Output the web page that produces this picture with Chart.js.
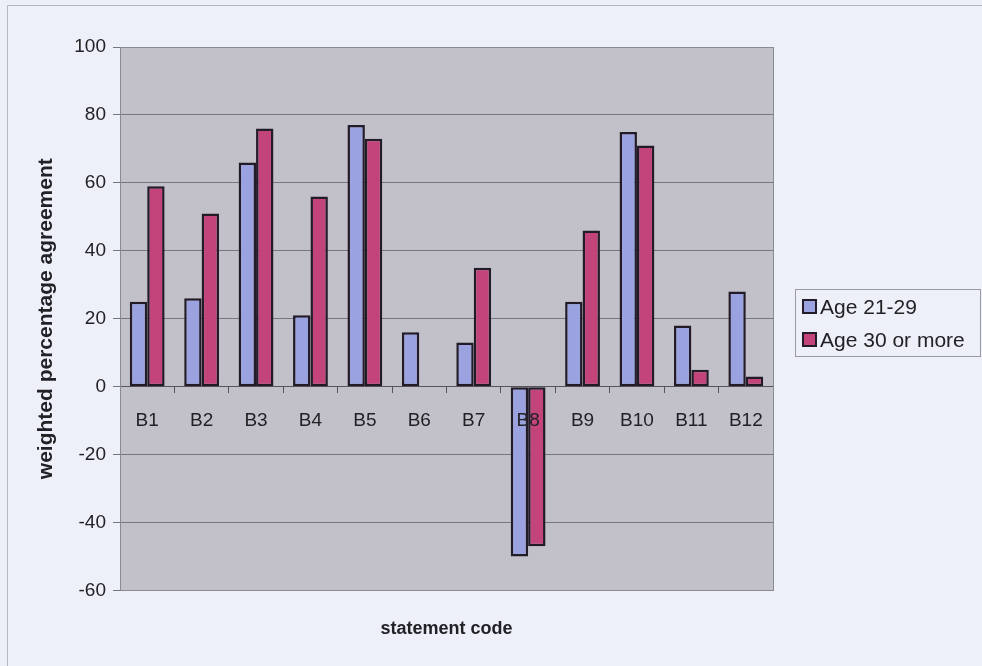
<!DOCTYPE html>
<html>
<head>
<meta charset="utf-8">
<script src="https://cdn.jsdelivr.net/npm/chart.js@4.4.1/dist/chart.umd.min.js"></script>
<style>
  html, body { margin: 0; padding: 0; background: #eef0f9; }
  #wrap { width: 982px; height: 666px; position: relative; }
</style>
</head>
<body>
<div id="wrap"><canvas id="c" width="982" height="666"></canvas></div>
<script>
// Statement codes on the category axis
const categories = ['B1', 'B2', 'B3', 'B4', 'B5', 'B6', 'B7', 'B8', 'B9', 'B10', 'B11', 'B12'];
// Weighted percentage agreement per age group
const age21to29 = [25, 26, 66, 21, 77, 16, 13, -50, 25, 75, 18, 28];
const age30plus = [59, 51, 76, 56, 73, 0, 35, -47, 46, 71, 5, 3];
const seriesNames = ['Age 21-29', 'Age 30 or more'];
// Value axis range and step
const yMin = -60, yMax = 100, yStep = 20;

const FONT = '"Liberation Sans", Arial, sans-serif';
const INK = '#222226';

// Grey plot area with a thin frame, plus the outer chart frame
const plotBackground = {
  id: 'plotBackground',
  beforeDraw(chart) {
    const { ctx, chartArea: a } = chart;
    ctx.save();
    ctx.strokeStyle = '#b4b6c0';
    ctx.lineWidth = 1;
    ctx.beginPath();
    ctx.moveTo(7.5, chart.height);
    ctx.lineTo(7.5, 5.5);
    ctx.lineTo(chart.width, 5.5);
    ctx.stroke();
    ctx.fillStyle = '#c2c1c9';
    ctx.fillRect(a.left, a.top, a.right - a.left, a.bottom - a.top);
    ctx.restore();
  },
  afterDatasetsDraw(chart) {
    const { ctx, chartArea: a } = chart;
    ctx.save();
    ctx.strokeStyle = '#8a8a92';
    ctx.lineWidth = 1;
    ctx.strokeRect(Math.round(a.left) + 0.5, Math.round(a.top) + 0.5,
                   Math.round(a.right - a.left), Math.round(a.bottom - a.top));
    ctx.restore();
  }
};

// Boxed legend to the right of the plot, built from the dataset labels/colours
const boxedLegend = {
  id: 'boxedLegend',
  afterDraw(chart) {
    const { ctx } = chart;
    const x0 = 795, y0 = 289, w = 185, h = 67;
    ctx.save();
    ctx.fillStyle = '#eef0f9';
    ctx.fillRect(x0, y0, w, h);
    ctx.strokeStyle = '#9a9aa2';
    ctx.lineWidth = 1;
    ctx.strokeRect(x0 + 0.5, y0 + 0.5, w, h);
    ctx.font = '21px ' + FONT;
    ctx.textBaseline = 'middle';
    chart.data.datasets.forEach((ds, i) => {
      const cy = y0 + 18 + i * 33;
      ctx.fillStyle = ds.backgroundColor;
      ctx.fillRect(803, cy - 7, 13, 13);
      ctx.strokeStyle = '#231c28';
      ctx.lineWidth = 2;
      ctx.strokeRect(803, cy - 7, 13, 13);
      ctx.fillStyle = INK;
      ctx.fillText(ds.label, 820, cy + 1);
    });
    ctx.restore();
  }
};

new Chart(document.getElementById('c'), {
  type: 'bar',
  data: {
    labels: categories,
    datasets: [
      {
        label: seriesNames[0],
        data: age21to29,
        backgroundColor: '#9aa2e0',
        borderColor: '#231c28',
        borderWidth: 2.5,
        borderSkipped: false
      },
      {
        label: seriesNames[1],
        data: age30plus,
        backgroundColor: '#c2447b',
        borderColor: '#231c28',
        borderWidth: 2.5,
        borderSkipped: false
      }
    ]
  },
  plugins: [plotBackground, boxedLegend],
  options: {
    responsive: false,
    animation: false,
    devicePixelRatio: 1,
    layout: { padding: { top: 47, right: 209, bottom: 0, left: 0 } },
    datasets: { bar: { categoryPercentage: 0.64, barPercentage: 1.0 } },
    plugins: {
      legend: { display: false },
      tooltip: { enabled: false },
      title: {
        display: true,
        position: 'bottom',
        fullSize: false,
        text: 'statement code',
        color: INK,
        font: { family: FONT, size: 18, weight: 'bold' },
        padding: { top: 28, bottom: 26 }
      }
    },
    scales: {
      x: {
        position: { y: 0 },
        grid: {
          offset: true,
          drawOnChartArea: false,
          drawTicks: true,
          tickLength: 6,
          color: '#55555c'
        },
        border: { display: true, color: '#55555c', width: 1 },
        ticks: {
          z: 1,
          color: INK,
          padding: 17,
          font: { family: FONT, size: 19 },
          maxRotation: 0,
          autoSkip: false
        }
      },
      y: {
        min: yMin,
        max: yMax,
        afterFit(scale) { scale.width = 120; },
        grid: {
          color: '#76767e',
          lineWidth: 1,
          tickLength: 7,
          drawTicks: true
        },
        border: { display: true, color: '#7a7a82', width: 1 },
        ticks: {
          stepSize: yStep,
          color: INK,
          padding: 7,
          font: { family: FONT, size: 19 }
        },
        title: {
          display: true,
          text: 'weighted percentage agreement',
          color: INK,
          font: { family: FONT, size: 21, weight: 'bold' },
          padding: { top: 34, bottom: 0 }
        }
      }
    }
  }
});
</script>
</body>
</html>
